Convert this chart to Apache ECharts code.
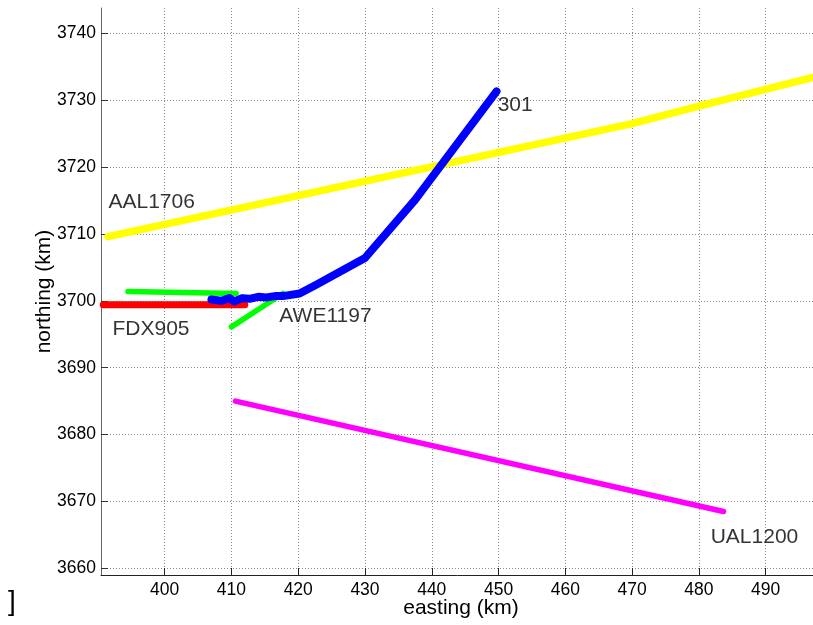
<!DOCTYPE html>
<html>
<head>
<meta charset="utf-8">
<title>flight tracks</title>
<script src="https://cdn.jsdelivr.net/npm/echarts@6/dist/echarts.min.js"></script>
<style>
html,body{margin:0;padding:0;background:#fff;}
#main{width:813px;height:625px;}
</style>
</head>
<body>
<div id="main"></div>
<script>
// tick labels
var xTicks = [400, 410, 420, 430, 440, 450, 460, 470, 480, 490];
var yTicks = [3660, 3670, 3680, 3690, 3700, 3710, 3720, 3730, 3740];

// tracks, [easting, northing] in km
var aal1706 = [[391.5, 3709.6], [470.0, 3726.5], [480.0, 3729.1], [498.3, 3733.7]];
var ual1200 = [[410.6, 3685.0], [483.7, 3668.5]];
var fdx905 = [[390.8, 3699.4], [412.0, 3699.4]];
var awe1197West = [[394.5, 3701.4], [410.7, 3701.1]];
var awe1197East = [[410.0, 3696.1], [417.7, 3701.1]];
var track301 = [[407.0, 3700.2], [408.5, 3700.0], [409.7, 3700.4], [410.4, 3699.9], [411.6, 3700.4],
    [412.7, 3700.3], [414.0, 3700.6], [415.2, 3700.5], [416.5, 3700.7], [417.7, 3700.7],
    [420.2, 3701.1], [422.7, 3702.4], [430.0, 3706.4], [437.5, 3715.1], [449.7, 3731.3]];

// small marks sitting on the yellow track
var yellowMarks = [[416.8, 3715.0], [448.0, 3721.7], [454.2, 3723.1]];
var yellowMarkColors = ['#8c7d2a', '#2a7f78', '#8a561c'];

// text labels: name + left/middle anchor
var labelNames = ['301', 'AAL1706', 'FDX905', 'AWE1197', 'UAL1200'];
var labelPos = [[449.8, 3729.2], [391.5, 3714.8], [392.1, 3695.7], [417.1, 3697.7], [481.7, 3664.7]];

var FONT = 'Liberation Sans, Arial, Helvetica, sans-serif';

function track(name, data, color, width) {
    return {
        name: name,
        type: 'line',
        data: data,
        symbol: 'none',
        silent: true,
        lineStyle: { color: color, width: width, cap: 'round', join: 'round' }
    };
}

var chart = echarts.init(document.getElementById('main'));

chart.setOption({
    animation: false,
    backgroundColor: '#fff',
    textStyle: { fontFamily: FONT },
    // plot box runs a little past the right edge of the picture
    grid: { left: 101, top: 8, width: 720, height: 567, outerBoundsMode: 'none' },
    xAxis: {
        type: 'value',
        min: 390.46,
        max: 498.3,
        minInterval: 10,
        maxInterval: 10,
        splitNumber: 11,
        name: 'easting (km)',
        nameLocation: 'middle',
        nameGap: 23,
        nameMoveOverlap: false,
        nameTextStyle: { fontSize: 21, color: '#000', fontFamily: FONT },
        axisLine: { onZero: false, lineStyle: { color: '#222', width: 1 } },
        axisTick: { inside: true, length: 7, lineStyle: { color: '#222' } },
        axisLabel: {
            fontSize: 17.5, color: '#000', margin: 6, fontFamily: FONT,
            showMinLabel: false, showMaxLabel: false,
            formatter: function (v) { return xTicks.indexOf(v) >= 0 ? String(v) : ''; }
        },
        splitLine: { show: true, showMinLine: false, showMaxLine: false, lineStyle: { color: '#888', type: [1, 2], width: 1 } }
    },
    yAxis: {
        type: 'value',
        min: 3659.0,
        max: 3743.78,
        minInterval: 10,
        maxInterval: 10,
        splitNumber: 9,
        name: 'northing (km)',
        nameLocation: 'middle',
        nameGap: 46,
        nameMoveOverlap: false,
        nameTextStyle: { fontSize: 21, color: '#000', fontFamily: FONT },
        axisLine: { onZero: false, lineStyle: { color: '#666', width: 1 } },
        axisTick: { inside: true, length: 7, lineStyle: { color: '#333' } },
        axisLabel: {
            fontSize: 17.5, color: '#000', margin: 5, fontFamily: FONT,
            showMinLabel: false, showMaxLabel: false,
            formatter: function (v) { return yTicks.indexOf(v) >= 0 ? String(v) : ''; }
        },
        splitLine: { show: true, showMinLine: false, showMaxLine: false, lineStyle: { color: '#888', type: [1, 2], width: 1 } }
    },
    // stray bracket in the lower left corner
    graphic: [{
        type: 'text', left: 8, top: 588,
        style: { text: ']', fontSize: 28, fill: '#000', fontFamily: FONT }
    }],
    series: [
        track('AAL1706', aal1706, '#ffff00', 7.5),
        track('UAL1200', ual1200, '#ff00ff', 5.5),
        track('FDX905', fdx905, '#ff0000', 7),
        track('AWE1197', awe1197West, '#00ff00', 5.5),
        track('AWE1197', awe1197East, '#00ff00', 5.5),
        track('301', track301, '#0000ff', 8),
        {
            type: 'scatter',
            silent: true,
            symbolSize: 3,
            data: yellowMarks.map(function (p, i) {
                return { value: p, itemStyle: { color: yellowMarkColors[i] } };
            })
        },
        {
            type: 'scatter',
            silent: true,
            symbolSize: 1,
            itemStyle: { color: 'rgba(0,0,0,0)' },
            data: labelPos.map(function (p, i) { return [p[0], p[1], labelNames[i]]; }),
            label: {
                show: true,
                position: 'right',
                distance: 0,
                fontSize: 21,
                color: '#000',
                fontFamily: FONT,
                formatter: function (p) { return p.value[2]; }
            }
        }
    ]
});
</script>
</body>
</html>
